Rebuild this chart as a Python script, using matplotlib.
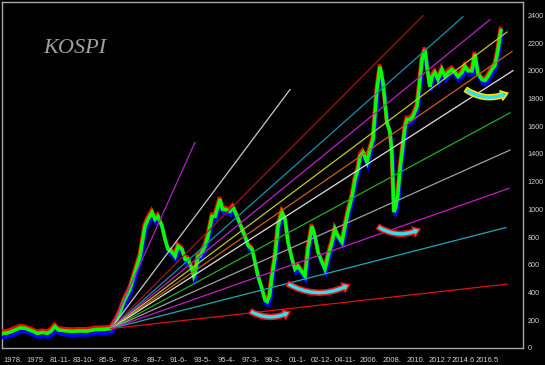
import matplotlib
matplotlib.use("Agg")
import matplotlib.pyplot as plt
import matplotlib.patheffects as pe

# ---------------- data ----------------
years = [
    1977.13, 1977.5, 1977.8, 1978.2, 1978.6, 1979.0, 1979.3, 1979.7, 1980.0, 1980.4,
    1980.8, 1981.1, 1981.4, 1981.7, 1982.2, 1982.8, 1983.4, 1984.0, 1984.7, 1985.4,
    1985.94, 1986.3, 1986.67, 1987.0, 1987.47, 1987.88, 1988.28, 1988.68, 1988.93, 1989.25,
    1989.49, 1989.73, 1990.06, 1990.30, 1990.54, 1990.87, 1991.11, 1991.35, 1991.67, 1991.92,
    1992.16, 1992.48, 1992.62, 1992.72, 1992.97, 1993.13, 1993.53, 1993.77, 1994.10, 1994.34,
    1994.58, 1994.74, 1994.95, 1995.15, 1995.55, 1995.79, 1996.12, 1996.52, 1996.76, 1997.00,
    1997.33, 1997.57, 1997.81, 1998.14, 1998.38, 1998.55, 1998.75, 1998.94, 1999.19, 1999.43,
    1999.75, 2000.0, 2000.24, 2000.56, 2000.80, 2001.04, 2001.37, 2001.61, 2001.85, 2002.17,
    2002.42, 2002.66, 2002.98, 2003.22, 2003.47, 2003.79, 2004.03, 2004.27, 2004.60, 2004.84,
    2005.08, 2005.41, 2005.65, 2005.89, 2006.05, 2006.29, 2006.62, 2006.86, 2007.10, 2007.42,
    2007.67, 2007.91, 2008.23, 2008.47, 2008.62, 2008.8, 2008.95, 2009.1, 2009.3, 2009.5,
    2009.7, 2009.85, 2010.09, 2010.33, 2010.66, 2010.90, 2011.06, 2011.30, 2011.46, 2011.70,
    2011.87, 2012.11, 2012.35, 2012.67, 2012.92, 2013.16, 2013.48, 2013.72, 2013.97, 2014.29,
    2014.53, 2014.78, 2015.10, 2015.34, 2015.58, 2015.90, 2016.15, 2016.39, 2016.71, 2016.96,
    2017.20, 2017.36, 2017.44,
]
close = [
    105, 108, 115, 130, 145, 142, 132, 118, 105, 112,
    106, 122, 155, 130, 124, 120, 123, 122, 133, 135,
    140, 190, 259, 340, 425, 547, 662, 878, 929, 979,
    929, 950, 878, 785, 713, 691, 662, 734, 713, 641,
    641, 569, 518, 540, 662, 662, 734, 806, 950, 950,
    1022, 1073, 1000, 1000, 986, 1015, 950, 857, 806, 740,
    713, 619, 518, 425, 345, 335, 380, 518, 662, 878,
    979, 929, 763, 641, 569, 590, 547, 518, 713, 878,
    806, 691, 619, 569, 662, 763, 857, 806, 763, 878,
    979, 1094, 1217, 1289, 1382, 1411, 1339, 1433, 1505, 1865,
    2030, 1915, 1627, 1560, 1420, 980, 1020, 1100, 1300, 1450,
    1600, 1649, 1649, 1670, 1742, 1937, 2080, 2153, 2030, 1886,
    1958, 1987, 1937, 2009, 1958, 1987, 2009, 1987, 1958, 1987,
    2030, 2000, 2000, 2120, 1980, 1937, 1930, 1958, 2009, 2040,
    2150, 2250, 2290,
]

# fan lines: common origin, individual end points
fan_origin_year = 1985.94
fan_origin_value = 140
fan_end_year = [1992.72, 2000.40, 2011.14, 2014.37, 2016.55, 2017.93, 2018.33,
                2018.41, 2018.17, 2018.17, 2018.09, 2017.84, 2017.93]
fan_end_value = [1483, 1865, 2397, 2390, 2369, 2280, 2140,
                 2001, 1697, 1428, 1152, 869, 461]
fan_colors = ['#b020c8', '#c8c8c8', '#a01818', '#1890b0', '#c020c8', '#c8c820', '#c86018',
              '#e0e0e0', '#20b020', '#a0a0a0', '#c020c0', '#20a8b8', '#e01010']

# bottom marks (start year, start value, end year, end value)
mark_start_year = [1997.2, 2000.2, 2007.5, 2014.6]
mark_start_value = [265, 465, 875, 1865]
mark_end_year = [2000.4, 2005.2, 2010.9, 2018.0]
mark_end_value = [262, 458, 858, 1840]
mark_edge = ['#ff1010', '#ff1010', '#ff1010', '#ffe000']

xtick_years = [1978.0, 1979.917, 1981.833, 1983.75, 1985.667, 1987.583, 1989.5,
               1991.417, 1993.333, 1995.25, 1997.167, 1999.083, 2001.0, 2002.917,
               2004.833, 2006.75, 2008.667, 2010.583, 2012.5, 2014.417, 2016.333]
xtick_labels = ['1978.', '1979.', '81-11-', '83-10-', '85-9-', '87-8-', '89-7-',
                '91-6-', '93-5-', '95-4-', '97-3-', '99-2-', '01-1-', '02-12-',
                '04-11-', '2006.', '2008.', '2010.', '2012.7', '2014.6', '2016.5']
ytick_values = [0, 200, 400, 600, 800, 1000, 1200, 1400, 1600, 1800, 2000, 2200, 2400]

# ---------------- figure ----------------
W, H = 545, 365
fig = plt.figure(figsize=(W / 100, H / 100), dpi=100, facecolor='black')
ax = fig.add_axes([2 / W, 1 - 348 / H, 521 / W, 346.5 / H], facecolor='black')
ax.set_xlim(1977.13, 2019.22)
ax.set_ylim(0, 2500)

for s in ax.spines.values():
    s.set_color('#a8a8a8')
    s.set_linewidth(1.0)

# price band
ax.plot(years, close, color='#00ff00', lw=2.6, zorder=3,
        solid_joinstyle='miter',
        path_effects=[
            pe.SimpleLineShadow(offset=(-0.4, 1.6), shadow_color='#ff0000', alpha=1.0),
            pe.SimpleLineShadow(offset=(0.7, -2.8), shadow_color='#0000ff', alpha=1.0),
            pe.Normal()])

# fan lines
for ey, ev, c in zip(fan_end_year, fan_end_value, fan_colors):
    ax.plot([fan_origin_year, ey], [fan_origin_value, ev], color=c, lw=0.9, zorder=4)

# marks
for sx, sy, ex, ey, ec in zip(mark_start_year, mark_start_value, mark_end_year,
                               mark_end_value, mark_edge):
    ax.annotate('', xy=(ex, ey), xytext=(sx, sy), zorder=5,
                arrowprops=dict(arrowstyle='simple,head_length=0.5,head_width=0.7,tail_width=0.35',
                                connectionstyle='arc3,rad=0.28',
                                fc='#30e0f0', ec=ec, lw=1.1, shrinkA=0, shrinkB=0))

ax.text((43 - 2) / 521, (348 - 53) / 346.5, 'KOSPI', transform=ax.transAxes,
        family=['Liberation Serif', 'DejaVu Serif'], style='italic', fontsize=16,
        color='#a0a0a0', va='baseline', ha='left')

ax.yaxis.tick_right()
ax.set_yticks(ytick_values)
ax.set_yticklabels([str(v) for v in ytick_values])
ax.set_xticks(xtick_years)
ax.set_xticklabels(xtick_labels)
ax.tick_params(axis='y', length=0, pad=3.5, labelsize=5.2, labelcolor='#d0d0d0')
ax.tick_params(axis='x', length=0, pad=6.5, labelsize=5.5, labelcolor='#d0d0d0')
for lab in ax.get_xticklabels() + ax.get_yticklabels():
    lab.set_family(['Liberation Sans', 'DejaVu Sans'])

fig.savefig('out.png', dpi=100, facecolor='black')
